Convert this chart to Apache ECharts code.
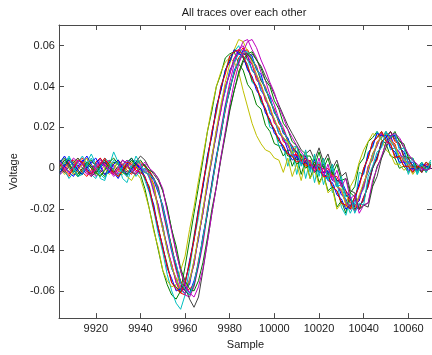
<!DOCTYPE html>
<html>
<head>
<meta charset="utf-8">
<script src="https://cdn.jsdelivr.net/npm/echarts@6/dist/echarts.min.js"></script>
<style>html,body{margin:0;padding:0;background:#fff}#c{width:432px;height:355px}</style>
</head>
<body>
<div id="c"></div>
<script>
// Sample numbers (x) shared by all traces
var samples = [9904,9906,9908,9910,9912,9914,9916,9918,9920,9922,9924,9926,9928,9930,9932,9934,9936,9938,9940,9942,9944,9946,9948,9950,9952,9954,9956,9958,9960,9962,9964,9966,9968,9970,9972,9974,9976,9978,9980,9982,9984,9986,9988,9990,9992,9994,9996,9998,10000,10002,10004,10006,10008,10010,10012,10014,10016,10018,10020,10022,10024,10026,10028,10030,10032,10034,10036,10038,10040,10042,10044,10046,10048,10050,10052,10054,10056,10058,10060,10062,10064,10066,10068,10070];

// Trace voltages, in millivolts
var t1 = [3,6,2,-2,1,4,0,-3,2,5,1,-2,0,3,-1,-4,1,3,0,-2,-3,-11,-18,-30,-38,-49,-54,-60,-59,-57,-45,-35,-20,-9,6,16,30,38,48,52,58,56,55,48,45,38,35,27,24,17,15,9,8,4,6,2,3,0,1,-2,-2,-6,-7,-13,-15,-20,-18,-16,-7,-2,7,11,17,16,16,10,8,3,3,-1,0,-1,2,1];
var t2 = [-2,1,5,3,-1,-3,2,4,1,-2,-4,0,3,2,-1,1,4,1,-3,-10,-20,-30,-40,-50,-57,-62,-64,-60,-48,-35,-22,-9,4,18,28,40,46,54,56,57,51,48,41,38,31,29,21,18,12,11,6,9,1,6,-3,4,-5,2,-7,-3,-11,-9,-19,-16,-22,-12,-9,2,5,13,15,18,14,12,6,5,0,1,-2,1,0,3,-1,0];
var t3 = [1,-2,-4,0,3,5,1,-2,-1,2,4,0,-3,-1,2,1,-2,0,2,1,-3,-8,-20,-28,-40,-47,-56,-61,-62,-55,-47,-33,-22,-7,4,18,28,40,46,54,56,59,53,51,43,41,33,30,22,20,13,12,6,7,2,5,0,3,-1,0,-4,-3,-9,-11,-17,-18,-21,-14,-9,1,4,13,15,18,13,12,5,6,1,1,-2,1,0,3];
var t4 = [-3,2,6,1,-4,-2,3,7,2,-5,-6,1,8,3,-5,-7,0,6,2,-6,-12,-21,-32,-41,-52,-60,-66,-69,-62,-49,-35,-24,-8,3,18,27,40,47,55,57,60,54,51,42,40,32,29,20,19,11,11,1,9,-3,7,-5,4,-7,3,-8,-1,-12,-6,-19,-23,-15,-18,-2,-3,8,10,18,15,17,9,10,2,5,-3,2,-2,3,0,4];
var t5 = [2,4,0,-3,-1,3,5,0,-4,-2,2,4,1,-3,-2,1,3,-1,-3,0,-2,-5,-9,-21,-31,-41,-50,-58,-62,-63,-58,-48,-37,-22,-9,5,19,31,42,51,57,62,63,58,54,47,43,36,31,24,20,14,11,8,5,6,2,4,0,2,-2,-2,-6,-7,-13,-15,-21,-18,-16,-7,0,5,13,15,18,15,12,6,5,1,1,-2,1,0];
var t6 = [0,-3,-1,2,5,2,-2,-4,1,3,0,-3,-1,4,2,-4,-6,-2,-5,-12,-20,-31,-39,-50,-55,-58,-57,-50,-43,-30,-19,-6,6,18,30,40,47,52,54,52,47,38,30,22,16,12,9,8,5,4,-2,5,-4,2,-6,3,-5,-1,-8,-3,-12,-10,-20,-17,-19,-9,-5,3,9,13,17,16,14,9,7,2,2,-1,1,-3,0,-2,1,0];
var t7 = [-1,2,4,1,-2,-3,1,3,2,-1,-3,0,2,4,1,-2,0,3,6,4,0,-3,-6,-11,-20,-30,-41,-50,-58,-64,-68,-63,-50,-36,-22,-9,4,16,28,38,46,52,55,56,53,50,45,41,36,31,26,21,17,13,9,7,9,4,10,3,7,0,4,-4,-2,-11,-12,-20,-18,-19,-9,-4,5,10,15,16,14,10,6,4,1,0,-1,1];
var t8 = [4,1,-2,-4,0,3,6,2,-2,0,3,1,-2,-5,-1,2,5,2,-1,-2,-3,-6,-12,-18,-28,-40,-47,-56,-58,-61,-55,-47,-33,-22,-7,6,16,30,38,48,52,58,56,55,48,46,38,35,27,24,17,15,9,8,4,6,1,4,-1,2,-2,-1,-6,-6,-11,-14,-19,-20,-14,-9,0,6,11,17,16,16,10,8,3,3,-1,0,-1,2];
var t9 = [3,5,1,-2,-4,-1,2,0,-3,1,4,2,-1,-4,-2,3,5,1,-1,-5,-9,-20,-29,-39,-47,-56,-58,-61,-55,-47,-33,-20,-9,6,16,30,38,48,53,58,57,54,49,43,40,33,29,22,19,13,11,6,6,2,4,0,2,-2,0,-4,-3,-9,-11,-17,-18,-19,-14,-8,0,5,13,15,18,14,12,6,5,1,1,-2,1,0,3,1];
var t10 = [-2,0,3,4,1,-2,-4,-1,3,5,2,-1,-3,0,2,-1,-3,1,3,1,-1,-5,-11,-19,-30,-38,-49,-55,-60,-59,-57,-45,-35,-20,-8,4,18,28,40,46,54,57,58,53,50,43,40,33,29,22,19,13,11,6,6,2,4,0,2,-2,0,-4,-4,-9,-11,-17,-18,-20,-14,-9,1,4,13,15,18,13,12,5,5,0,1,-2,2,0];
var t11 = [2,-1,-5,-2,3,6,2,-3,-5,0,5,3,-2,-3,1,4,0,-4,-1,0,-5,-10,-20,-28,-40,-49,-54,-60,-61,-55,-47,-33,-22,-7,4,18,29,38,47,52,56,55,53,48,45,38,35,27,24,17,15,12,6,11,2,8,-1,6,-2,3,-5,0,-9,-8,-16,-22,-17,-14,-10,0,5,12,15,18,13,10,5,6,0,2,-3,2,-1,3];
var t12 = [-3,-1,2,5,3,0,-3,-2,1,4,2,-1,-4,-2,2,4,1,-2,0,-1,-4,-12,-18,-30,-39,-47,-56,-59,-61,-54,-47,-33,-22,-7,5,18,28,40,46,54,58,60,55,51,45,40,34,29,23,19,14,11,7,6,3,4,1,2,-1,0,-4,-4,-9,-11,-17,-19,-20,-14,-9,0,7,11,17,16,15,10,8,3,3,-1,0,-1,2,1];
var t13 = [1,3,0,-3,-1,2,5,1,-2,-4,0,3,2,-1,-3,0,3,1,-1,-2,-3,-9,-21,-30,-40,-48,-54,-59,-58,-55,-45,-33,-20,-6,6,19,31,42,51,58,63,62,57,52,46,41,35,30,24,19,15,13,7,11,4,8,1,6,-1,4,-4,-2,-9,-10,-18,-19,-20,-13,-7,-1,7,12,16,17,14,11,6,4,2,0,-1,0,1,3];
var t14 = [0,-2,1,3,5,2,-1,-4,-2,2,3,0,-2,1,4,2,-2,-3,0,2,-2,-5,-10,-20,-29,-39,-48,-56,-60,-62,-57,-47,-34,-22,-8,5,16,29,38,47,52,56,56,53,49,43,39,33,28,23,18,14,10,8,4,5,1,3,0,1,-3,-2,-6,-7,-13,-15,-20,-18,-16,-7,0,5,13,15,18,14,12,6,5,1,1,-2,1,0];
var t15 = [-2,1,4,2,-1,-3,0,3,5,1,-3,-2,2,4,0,-3,-1,2,0,-4,-11,-18,-30,-38,-49,-54,-60,-59,-57,-45,-35,-20,-9,6,16,30,38,48,52,58,56,55,48,45,38,35,27,24,17,15,9,8,4,6,2,3,0,1,-2,-2,-6,-7,-13,-15,-20,-18,-16,-7,-2,7,11,17,16,16,10,8,3,3,-1,0,-1,2,1,0];
var t16 = [1,4,2,-1,-3,0,3,1,-2,-4,-1,3,5,2,-2,-3,0,2,4,1,-1,-2,-5,-11,-19,-30,-38,-49,-55,-59,-60,-55,-46,-34,-20,-9,5,17,29,38,47,53,56,57,53,49,43,40,33,29,22,19,13,11,6,6,6,1,8,0,5,-3,2,-6,-5,-12,-14,-20,-18,-17,-8,1,5,13,15,18,13,12,5,5,0,1,-2,2];
var t17 = [2,-1,-3,0,4,3,-1,-3,0,2,5,1,-2,-4,-1,3,2,-1,-2,-4,-10,-20,-29,-39,-48,-56,-59,-61,-56,-46,-35,-21,-7,4,18,28,40,46,55,57,58,55,50,44,40,34,29,23,19,14,11,7,6,3,4,1,2,-1,0,-4,-4,-9,-11,-17,-18,-20,-14,-9,0,5,13,15,18,13,12,5,6,1,1,-2,1,0,3,1];
var t18 = [-1,3,5,0,-4,-3,2,5,1,-3,-5,0,4,2,-2,-4,1,4,2,-2,-3,-5,-11,-19,-29,-40,-47,-56,-59,-62,-56,-46,-34,-21,-9,5,17,29,39,47,53,57,57,54,49,44,39,34,28,23,18,14,10,11,1,9,-2,7,-4,5,-6,2,-9,-4,-14,-13,-22,-17,-18,-4,1,8,10,18,15,17,9,10,2,5,-3,2,-2,3];
var t19 = [3,0,-2,1,4,2,-2,-4,0,3,1,-1,-3,0,4,2,-1,-3,1,3,0,-2,-5,-10,-21,-31,-41,-50,-57,-61,-63,-58,-49,-36,-22,-9,5,18,31,42,51,57,62,63,59,53,48,42,37,30,25,19,15,11,8,5,3,-2,5,-4,2,-6,-1,-9,-5,-15,-13,-22,-18,-17,-6,0,6,12,16,17,15,11,7,4,2,0,-1,0];

var traces = [t1,t2,t3,t4,t5,t6,t7,t8,t9,t10,t11,t12,t13,t14,t15,t16,t17,t18,t19];
var colors = ['#0000FF','#008000','#FF0000','#00BFBF','#BF00BF','#BFBF00','#404040'];

// Tick positions and labels
var xTicks = [9920,9940,9960,9980,10000,10020,10040,10060];
var yTicks = [-60,-40,-20,0,20,40,60];            // mV
var yTickLabels = ['-0.06','-0.04','-0.02','0','0.02','0.04','0.06']; // V

var chart = echarts.init(document.getElementById('c'), null, {renderer:'canvas'});
var FONT = "'Liberation Sans', Arial, sans-serif";
var AX = '#4a4a4a';
var XMIN = 9903.5, XMAX = 10070.6, YMIN = -73.3, YMAX = 70.1;

var series = traces.map(function(tr, k){
  return {
    type:'line', xAxisIndex:0, yAxisIndex:0,
    showSymbol:false, symbol:'none', animation:false,
    lineStyle:{width:1, color:colors[k % colors.length]},
    data: tr.map(function(v,i){ return [samples[i], v]; })
  };
});

var baseX = {
  type:'value', min:XMIN, max:XMAX,
  axisLine:{show:true, onZero:false, lineStyle:{color:AX, width:1}},
  axisTick:{show:true, inside:true, length:5, customValues:xTicks, lineStyle:{color:AX}},
  splitLine:{show:false}
};
var baseY = {
  type:'value', min:YMIN, max:YMAX,
  axisLine:{show:true, onZero:false, lineStyle:{color:AX, width:1}},
  axisTick:{show:true, inside:true, length:5, customValues:yTicks, lineStyle:{color:AX}},
  splitLine:{show:false}
};

chart.setOption({
  animation:false,
  backgroundColor:'#fff',
  grid:{left:55, top:25, width:378, height:297.5, containLabel:false},
  graphic:[{type:'text', x:244, y:13, style:{text:'All traces over each other', font:'11px '+FONT, fill:'#1a1a1a', textAlign:'center', textVerticalAlign:'middle'}}],
  xAxis:[
    Object.assign({}, baseX, {
      position:'bottom',
      name:'Sample', nameLocation:'middle', nameGap:20,
      nameTextStyle:{fontFamily:FONT, fontSize:11, color:'#1a1a1a'},
      axisLabel:{show:true, customValues:xTicks, margin:5, fontFamily:FONT, fontSize:11, color:'#1a1a1a',
        formatter:function(v){ return String(Math.round(v)); }}
    }),
    Object.assign({}, baseX, {position:'top', axisLabel:{show:false}})
  ],
  yAxis:[
    Object.assign({}, baseY, {
      position:'left',
      name:'Voltage', nameLocation:'middle', nameGap:36, nameRotate:90,
      nameTextStyle:{fontFamily:FONT, fontSize:11, color:'#1a1a1a'},
      axisLabel:{show:true, customValues:yTicks, margin:4, fontFamily:FONT, fontSize:11, color:'#1a1a1a',
        formatter:function(v){ var i = yTicks.indexOf(Math.round(v)); return i>=0 ? yTickLabels[i] : ''; }}
    }),
    Object.assign({}, baseY, {position:'right', axisLabel:{show:false}})
  ],
  series:series
});
</script>
</body>
</html>
